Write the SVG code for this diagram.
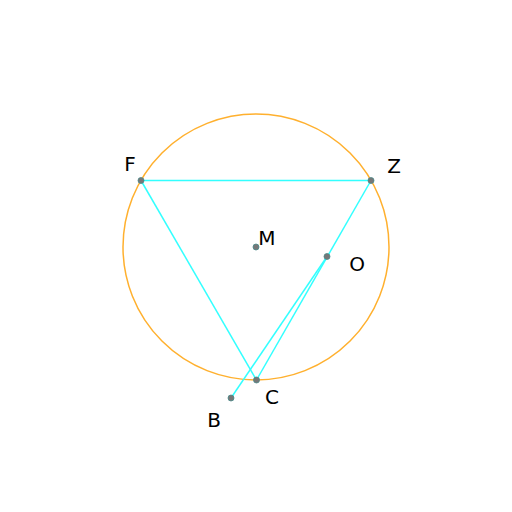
<svg xmlns="http://www.w3.org/2000/svg" width="512" height="512" viewBox="0 0 512 512">
<style>
.seg{stroke:#33ffff;stroke-width:1.5;fill:none}
.pt{fill:#777;stroke:#4a8a8a;stroke-width:0.8}
text{font-family:"DejaVu Sans",sans-serif;font-size:20px;fill:#000;text-anchor:middle;dominant-baseline:central}
</style>
<rect width="512" height="512" fill="#fff"/>
<circle id="circle" cx="256" cy="247" r="133" fill="none" stroke="#ffb02e" stroke-width="1.5"/>
<g id="connectors">
<line class="seg" x1="141" y1="180.5" x2="371" y2="180.5"/>
<line class="seg" x1="141" y1="180.5" x2="256.5" y2="380"/>
<line class="seg" x1="371" y1="180.5" x2="256.5" y2="380"/>
<line class="seg" x1="231" y1="398" x2="327" y2="256.5"/>
</g>
<g id="F"><circle class="pt" cx="141" cy="180.5" r="3"/><text x="130" y="164">F</text></g>
<g id="Z"><circle class="pt" cx="371" cy="180.5" r="3"/><text x="394" y="166">Z</text></g>
<g id="C"><circle class="pt" cx="256.5" cy="380" r="3"/><text x="272" y="397">C</text></g>
<g id="M"><circle class="pt" cx="256" cy="247" r="3"/><text x="267" y="238">M</text></g>
<g id="O"><circle class="pt" cx="327" cy="256.5" r="3"/><text x="357" y="264">O</text></g>
<g id="B"><circle class="pt" cx="231" cy="398" r="3"/><text x="214" y="420">B</text></g>
</svg>
